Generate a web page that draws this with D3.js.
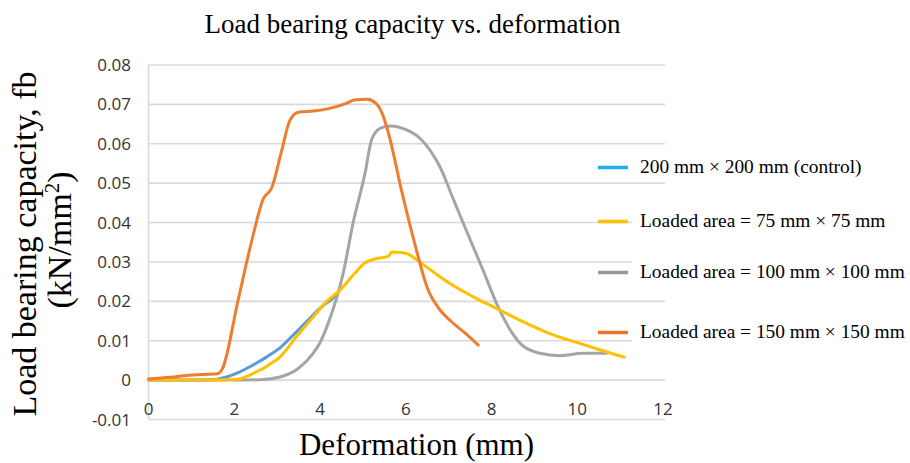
<!DOCTYPE html>
<html>
<head>
<meta charset="utf-8">
<script src="https://cdn.jsdelivr.net/npm/d3@7/dist/d3.min.js"></script>
<style>
  html, body { margin: 0; padding: 0; background: #fff; }
  svg { display: block; }
</style>
</head>
<body>
<svg id="chart" width="910" height="463"></svg>
<script>
// ---- data ----
const seriesNames = [
  "200 mm \u00d7 200 mm (control)",
  "Loaded area = 75 mm \u00d7 75 mm",
  "Loaded area = 100 mm \u00d7 100 mm",
  "Loaded area = 150 mm \u00d7 150 mm"
];
const xTicks = [0, 2, 4, 6, 8, 10, 12];
const yTicks = [-0.01, 0, 0.01, 0.02, 0.03, 0.04, 0.05, 0.06, 0.07, 0.08];
const yTickLabels = ["-0.01", "0", "0.01", "0.02", "0.03", "0.04", "0.05", "0.06", "0.07", "0.08"];

const control200 = [[0,0],[1,0],[1.5,0.0001],[1.82,0.0008],[2.13,0.0021],[2.5,0.0042],[2.76,0.0059],[3.1,0.0085],[3.38,0.0115],[3.7,0.015],[4.08,0.019],[4.3,0.0208],[4.36,0.0215],[4.38,0.0207]];
const area75 = [[0,0],[1,0],[1.5,0],[2.05,0.0002],[2.5,0.002],[2.8,0.0038],[3.07,0.0059],[3.45,0.011],[3.8,0.0155],[4.19,0.0203],[4.46,0.0228],[4.8,0.027],[5.05,0.0298],[5.3,0.0308],[5.6,0.0315],[5.67,0.0325],[6.0,0.0322],[6.3,0.0302],[6.6,0.0278],[7.03,0.0245],[7.6,0.021],[8.19,0.0178],[8.8,0.0145],[9.36,0.0118],[10.0,0.0095],[10.52,0.0077],[11.1,0.0058]];
const area100 = [[0,0],[1,0],[2,0],[2.6,0.0001],[3.07,0.0008],[3.5,0.003],[3.84,0.0068],[4.0,0.0095],[4.19,0.0144],[4.54,0.0271],[4.77,0.0398],[5.05,0.0525],[5.2,0.0609],[5.4,0.0639],[5.65,0.0645],[6.02,0.0635],[6.3,0.0617],[6.6,0.0578],[6.8,0.0541],[7.1,0.0462],[7.42,0.0378],[7.8,0.028],[8.15,0.0187],[8.45,0.0125],[8.7,0.009],[9.13,0.0068],[9.59,0.0062],[10.13,0.0068],[10.68,0.0068]];
const area150 = [[0,0.0003],[0.5,0.0007],[1.0,0.0013],[1.6,0.0016],[1.72,0.0028],[2.09,0.0203],[2.4,0.035],[2.68,0.0461],[2.87,0.0487],[3.1,0.058],[3.3,0.066],[3.5,0.068],[3.85,0.0683],[4.15,0.0688],[4.6,0.0702],[4.8,0.0711],[5.1,0.0713],[5.3,0.0703],[5.44,0.068],[5.6,0.0626],[5.9,0.0482],[6.25,0.033],[6.5,0.0235],[6.8,0.0178],[7.05,0.015],[7.4,0.0118],[7.69,0.0089]];

const lineColors = ["#5b9bd5", "#ffc000", "#a5a5a5", "#ed7d31"];
const legendColors = ["#1fb0ea", "#ffc000", "#999999", "#e8732a"];
const seriesData = [control200, area75, area100, area150];

// ---- layout ----
const svg = d3.select("#chart");
const x = d3.scaleLinear().domain([0, 12]).range([148.5, 663]);
const y = d3.scaleLinear().domain([-0.01, 0.08]).range([419.5, 65]);

// gridlines
svg.append("g").selectAll("line").data(yTicks).join("line")
  .attr("x1", x(0)).attr("x2", 665)
  .attr("y1", d => y(d)).attr("y2", d => y(d))
  .attr("stroke", "#d9d9d9").attr("stroke-width", 1.6);

// vertical axis line
svg.append("line")
  .attr("x1", x(0)).attr("x2", x(0))
  .attr("y1", y(0.08)).attr("y2", y(-0.01))
  .attr("stroke", "#d9d9d9").attr("stroke-width", 1.6);

// y tick labels
svg.append("g").selectAll("text").data(yTicks).join("text")
  .attr("x", 131).attr("y", d => y(d) + 6)
  .attr("text-anchor", "end")
  .attr("font-family", "'Open Sans', sans-serif")
  .attr("font-size", 17).attr("fill", "#333")
  .text((d, i) => yTickLabels[i]);

// x tick labels
svg.append("g").selectAll("text").data(xTicks).join("text")
  .attr("x", d => x(d)).attr("y", 414.5)
  .attr("text-anchor", "middle")
  .attr("font-family", "'Open Sans', sans-serif")
  .attr("font-size", 17).attr("fill", "#333")
  .text(d => d);

// lines
const line = d3.line().x(d => x(d[0])).y(d => y(d[1])).curve(d3.curveMonotoneX);
const drawOrder = [0, 2, 1, 3];
drawOrder.forEach(i => {
  svg.append("path").datum(seriesData[i])
    .attr("d", line)
    .attr("fill", "none")
    .attr("stroke", lineColors[i])
    .attr("stroke-width", 3)
    .attr("stroke-linejoin", "round")
    .attr("stroke-linecap", "round");
});

// legend
const legendBase = [173, 227, 278, 338];
const lg = svg.append("g");
seriesNames.forEach((name, i) => {
  const b = legendBase[i];
  lg.append("rect").attr("x", 632).attr("y", b - 19).attr("width", 278).attr("height", 26).attr("fill", "#fff");
  lg.append("line").attr("x1", 598).attr("x2", 628)
    .attr("y1", b - 5.5).attr("y2", b - 5.5)
    .attr("stroke", legendColors[i]).attr("stroke-width", 3.5);
  lg.append("text").attr("x", 640).attr("y", b)
    .attr("font-family", "'Liberation Serif', 'Times New Roman', serif")
    .attr("font-size", 19.4).attr("fill", "#000")
    .text(name);
});

// title
svg.append("text").attr("x", 412.5).attr("y", 33)
  .attr("text-anchor", "middle")
  .attr("font-family", "'Liberation Serif', 'Times New Roman', serif")
  .attr("font-size", 27).attr("fill", "#000")
  .text("Load bearing capacity vs. deformation");

// x axis title
svg.append("text").attr("x", 416.5).attr("y", 455)
  .attr("text-anchor", "middle")
  .attr("font-family", "'Liberation Serif', 'Times New Roman', serif")
  .attr("font-size", 31).attr("fill", "#000")
  .text("Deformation (mm)");

// y axis title
svg.append("text").attr("transform", "translate(36,244) rotate(-90)")
  .attr("text-anchor", "middle")
  .attr("font-family", "'Liberation Serif', 'Times New Roman', serif")
  .attr("font-size", 34).attr("fill", "#000")
  .text("Load bearing capacity, fb");
const yt2 = svg.append("text").attr("transform", "translate(71,240) rotate(-90)")
  .attr("text-anchor", "middle")
  .attr("font-family", "'Liberation Serif', 'Times New Roman', serif")
  .attr("font-size", 34).attr("fill", "#000");
yt2.append("tspan").text("(kN/mm");
yt2.append("tspan").attr("font-size", 21).attr("dy", -12).text("2");
yt2.append("tspan").attr("dy", 12).text(")");
</script>
</body>
</html>
